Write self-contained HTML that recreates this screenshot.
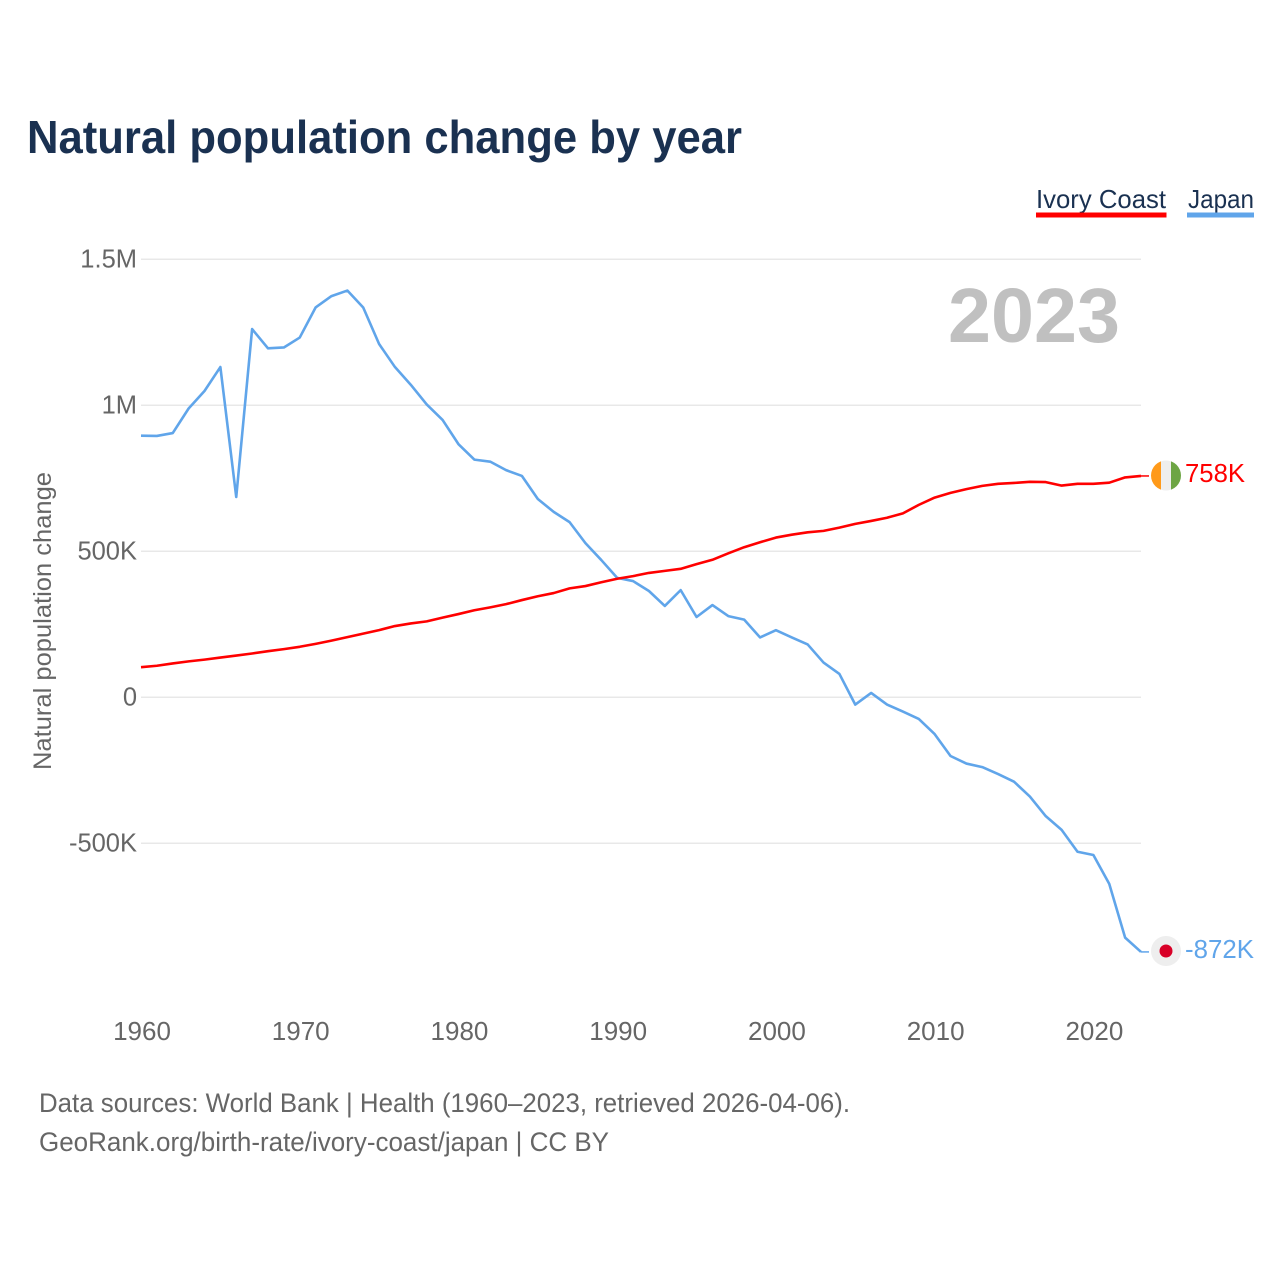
<!DOCTYPE html>
<html lang="en">
<head>
<meta charset="utf-8">
<title>Natural population change by year</title>
<style>
html,body{margin:0;padding:0;background:#fff;}
#chart{display:block;width:1280px;height:1280px;font-family:"Liberation Sans",sans-serif;}
</style>
</head>
<body>
<svg id="chart" xmlns="http://www.w3.org/2000/svg" width="1280" height="1280" viewBox="0 0 1280 1280">
  <defs>
    <clipPath id="flag-clip"><circle cx="1166" cy="475.5" r="15"/></clipPath>
  </defs>
  <text x="27" y="153" font-size="46" font-weight="700" fill="#1a3151" textLength="715" lengthAdjust="spacingAndGlyphs">Natural population change by year</text>

  <g>
    <g>
      <text x="1036" y="208" font-size="26" fill="#1a3151" textLength="130" lengthAdjust="spacingAndGlyphs">Ivory Coast</text>
      <rect x="1036" y="212.500" width="130.500" height="5" fill="#ff0000"/>
    </g>
    <g>
      <text x="1188" y="208" font-size="26" fill="#1a3151" textLength="66" lengthAdjust="spacingAndGlyphs">Japan</text>
      <rect x="1187" y="212.500" width="67" height="5" fill="#60a5ea"/>
    </g>
  </g>

  <g id="grid"></g>
  <g id="y-ticks"></g>
  <g id="x-ticks"></g>

  <text transform="translate(51,621) rotate(-90)" text-anchor="middle" font-size="25" fill="#666666" textLength="298" lengthAdjust="spacingAndGlyphs">Natural population change</text>

  <text x="948" y="342" font-size="77" font-weight="700" fill="#c0c0c0" textLength="172" lengthAdjust="spacingAndGlyphs">2023</text>

  <g id="series"></g>

  <g>
    <g clip-path="url(#flag-clip)">
      <rect x="1151" y="460" width="10" height="31" fill="#ff9a1a"/>
      <rect x="1161" y="460" width="10" height="31" fill="#eeeeee"/>
      <rect x="1171" y="460" width="10" height="31" fill="#6da544"/>
    </g>
  </g>
  <g>
    <circle cx="1166" cy="951" r="15" fill="#eeeeee"/>
    <circle cx="1166" cy="951" r="6.500" fill="#d80027"/>
  </g>

  <text x="1185" y="482" font-size="26" fill="#ff0000" textLength="60" lengthAdjust="spacingAndGlyphs">758K</text>
  <text x="1185" y="958" font-size="26" fill="#60a5ea" textLength="69" lengthAdjust="spacingAndGlyphs">-872K</text>

  <text x="39" y="1112" font-size="26.500" fill="#666666" textLength="811" lengthAdjust="spacingAndGlyphs">Data sources: World Bank | Health (1960–2023, retrieved 2026-04-06).</text>
  <text x="39" y="1151" font-size="26.500" fill="#666666" textLength="570" lengthAdjust="spacingAndGlyphs">GeoRank.org/birth-rate/ivory-coast/japan | CC BY</text>
</svg>
<script>
const startYear = 1960;
const endYear = 2023;
const ivoryCoast = [103,108,116,123,129,136,143,150,158,165,173,183,194,206,218,230,244,253,260,273,285,298,308,319,333,346,357,373,381,394,406,415,426,433,440,456,471,493,514,531,547,557,565,570,581,594,604,615,630,659,684,700,713,724,731,734,738,737,725,731,731,735,753,758];
const japan = [896,895,905,989,1049,1131,686,1261,1195,1198,1232,1335,1374,1393,1335,1210,1131,1070,1003,950,867,814,807,778,758,679,635,600,528,470,409,398,364,313,367,275,316,278,266,205,230,205,181,119,80,-25,15,-25,-49,-74,-126,-201,-227,-239,-263,-289,-340,-407,-454,-529,-540,-639,-823,-872];
const yTickValues = [1500,1000,500,0,-500];
const yTickLabels = ['1.5M','1M','500K','0','-500K'];
const xTickYears = [1960,1970,1980,1990,2000,2010,2020];

const NS = 'http://www.w3.org/2000/svg';
function xScale(year) {
  return 141 + (year - startYear) * (1141 - 141) / (endYear - startYear);
}
function yScale(value) {
  return 697.3 - value * 0.292;
}

const grid = document.getElementById('grid');
const yTicks = document.getElementById('y-ticks');
const xTicks = document.getElementById('x-ticks');
const seriesGroup = document.getElementById('series');

yTickValues.forEach(function (v, i) {
  const line = document.createElementNS(NS, 'line');
  line.setAttribute('x1', 141);
  line.setAttribute('x2', 1141);
  line.setAttribute('y1', yScale(v));
  line.setAttribute('y2', yScale(v));
  line.setAttribute('stroke', '#e8e8e8');
  line.setAttribute('stroke-width', '1.500');
  
  
  grid.appendChild(line);

  const label = document.createElementNS(NS, 'text');
  label.setAttribute('x', 137);
  label.setAttribute('y', yScale(v) + 8.2);
  label.setAttribute('text-anchor', 'end');
  label.setAttribute('font-size', '25.500');
  label.setAttribute('fill', '#666666');
  label.textContent = yTickLabels[i];
  
  
  yTicks.appendChild(label);
});

xTickYears.forEach(function (year) {
  const label = document.createElementNS(NS, 'text');
  label.setAttribute('x', xScale(year) + 1);
  label.setAttribute('y', 1040);
  label.setAttribute('text-anchor', 'middle');
  label.setAttribute('font-size', '26');
  label.setAttribute('fill', '#666666');
  label.textContent = String(year);
  
  
  xTicks.appendChild(label);
});

function seriesPoints(values) {
  return values.map(function (v, i) {
    return xScale(startYear + i).toFixed(2) + ',' + yScale(v).toFixed(2);
  }).join(' ');
}

const japanLine = document.createElementNS(NS, 'polyline');
japanLine.setAttribute('points', seriesPoints(japan));
japanLine.setAttribute('fill', 'none');
japanLine.setAttribute('stroke', '#60a5ea');
japanLine.setAttribute('stroke-width', '2.600');
japanLine.setAttribute('stroke-linejoin', 'round');


seriesGroup.appendChild(japanLine);

const ivoryLine = document.createElementNS(NS, 'polyline');
ivoryLine.setAttribute('points', seriesPoints(ivoryCoast));
ivoryLine.setAttribute('fill', 'none');
ivoryLine.setAttribute('stroke', '#ff0000');
ivoryLine.setAttribute('stroke-width', '2.600');
ivoryLine.setAttribute('stroke-linejoin', 'round');


seriesGroup.appendChild(ivoryLine);

const japanConnector = document.createElementNS(NS, 'line');
japanConnector.setAttribute('x1', xScale(endYear));
japanConnector.setAttribute('x2', 1149);
japanConnector.setAttribute('y1', yScale(japan[japan.length - 1]));
japanConnector.setAttribute('y2', yScale(japan[japan.length - 1]));
japanConnector.setAttribute('stroke', '#60a5ea');
japanConnector.setAttribute('stroke-width', '1.500');


seriesGroup.appendChild(japanConnector);

const ivoryConnector = document.createElementNS(NS, 'line');
ivoryConnector.setAttribute('x1', xScale(endYear));
ivoryConnector.setAttribute('x2', 1149);
ivoryConnector.setAttribute('y1', yScale(ivoryCoast[ivoryCoast.length - 1]));
ivoryConnector.setAttribute('y2', yScale(ivoryCoast[ivoryCoast.length - 1]));
ivoryConnector.setAttribute('stroke', '#ff0000');
ivoryConnector.setAttribute('stroke-width', '1.500');


seriesGroup.appendChild(ivoryConnector);
</script>
</body>
</html>
